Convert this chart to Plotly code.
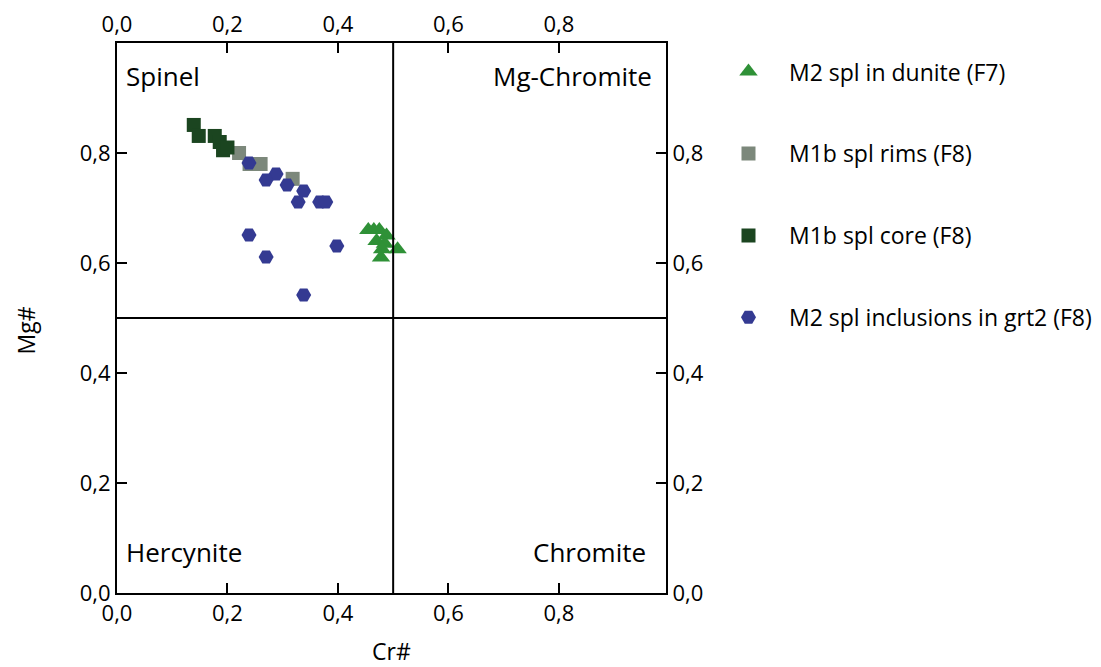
import plotly.graph_objects as go

# Data
dunite_x = [0.455, 0.465, 0.475, 0.488, 0.470, 0.485, 0.480, 0.478, 0.508]
dunite_y = [0.660, 0.660, 0.660, 0.650, 0.640, 0.635, 0.625, 0.610, 0.625]

rims_x = [0.221, 0.240, 0.260, 0.318]
rims_y = [0.800, 0.780, 0.780, 0.753]

core_x = [0.139, 0.148, 0.177, 0.186, 0.192, 0.200]
core_y = [0.851, 0.831, 0.831, 0.820, 0.805, 0.810]

incl_x = [0.239, 0.288, 0.270, 0.308, 0.338, 0.328, 0.367, 0.378, 0.239, 0.270, 0.398, 0.338]
incl_y = [0.782, 0.762, 0.751, 0.742, 0.731, 0.711, 0.711, 0.711, 0.651, 0.611, 0.631, 0.542]

tick_vals = [0.0, 0.2, 0.4, 0.6, 0.8]
region_labels = ["Spinel", "Mg-Chromite", "Hercynite", "Chromite"]
x_title = "Cr#"
y_title = "Mg#"

FONT = "Open Sans"

fig = go.Figure()
fig.add_trace(go.Scatter(x=dunite_x, y=dunite_y, mode="markers", name="M2 spl in dunite (F7)",
                         legendgroup="a",
                         marker=dict(symbol="triangle-up", size=16, color="#2f9137")))
fig.add_trace(go.Scatter(x=rims_x, y=rims_y, mode="markers", name="M1b spl rims (F8)",
                         legendgroup="b",
                         marker=dict(symbol="square", size=14, color="#7c887b")))
fig.add_trace(go.Scatter(x=core_x, y=core_y, mode="markers", name="M1b spl core (F8)",
                         legendgroup="c",
                         marker=dict(symbol="square", size=14, color="#1b4520")))
fig.add_trace(go.Scatter(x=incl_x, y=incl_y, mode="markers", name="M2 spl inclusions in grt2 (F8)",
                         legendgroup="d",
                         marker=dict(symbol="hexagon2", size=15, color="#343a92")))

# dummy traces for top / right axes
fig.add_trace(go.Scatter(x=[None], y=[None], xaxis="x2", yaxis="y", showlegend=False))
fig.add_trace(go.Scatter(x=[None], y=[None], xaxis="x", yaxis="y2", showlegend=False))

# quadrant lines
fig.add_shape(type="line", x0=0.5, x1=0.5, y0=0, y1=1, xref="x", yref="y",
              line=dict(color="black", width=2))
fig.add_shape(type="line", x0=0, x1=1, y0=0.5, y1=0.5, xref="x", yref="y",
              line=dict(color="black", width=2))

ann_pos = [(0.013, 0.94, "left"), (0.973, 0.94, "right"), (0.013, 0.075, "left"), (0.962, 0.075, "right")]
for lab, (ax, ay, al) in zip(region_labels, ann_pos):
    fig.add_annotation(x=ax, y=ay, xref="x", yref="y", text=lab, showarrow=False,
                       xanchor=al, yanchor="middle", font=dict(size=26, family=FONT, color="black"))

# axis titles
fig.add_annotation(x=0.5, y=-0.105, xref="paper", yref="paper", text=x_title, showarrow=False,
                   xanchor="center", yanchor="middle", font=dict(size=23, family=FONT, color="black"))
fig.add_annotation(x=-0.165, y=0.478, xref="paper", yref="paper", text=y_title, showarrow=False,
                   textangle=-90, xanchor="center", yanchor="middle",
                   font=dict(size=23, family=FONT, color="black"))

XR = [0, 0.994]
axis_common = dict(showgrid=False, zeroline=False, showline=True, linecolor="black", linewidth=2,
                   ticks="inside", ticklen=10, tickwidth=2, tickcolor="black",
                   tickvals=tick_vals, tickformat=".1f", automargin=False,
                   tickfont=dict(size=22, family=FONT, color="black"))

fig.update_layout(
    width=1101, height=667,
    margin=dict(l=117, r=435, t=43, b=74, autoexpand=False),
    plot_bgcolor="white", paper_bgcolor="white",
    separators=", ",
    xaxis=dict(range=XR, **axis_common),
    xaxis2=dict(range=XR, overlaying="x", side="top", anchor="y", **axis_common),
    yaxis=dict(range=[0, 1], **axis_common),
    yaxis2=dict(range=[0, 1], overlaying="y", side="right", anchor="x", **axis_common),
    showlegend=True,
    legend=dict(x=1.0765, xanchor="left", y=0.987, yanchor="top",
                font=dict(size=23, family=FONT, color="black"),
                tracegroupgap=49, itemwidth=71, bgcolor="rgba(0,0,0,0)"),
)

fig.write_html("out.html")
